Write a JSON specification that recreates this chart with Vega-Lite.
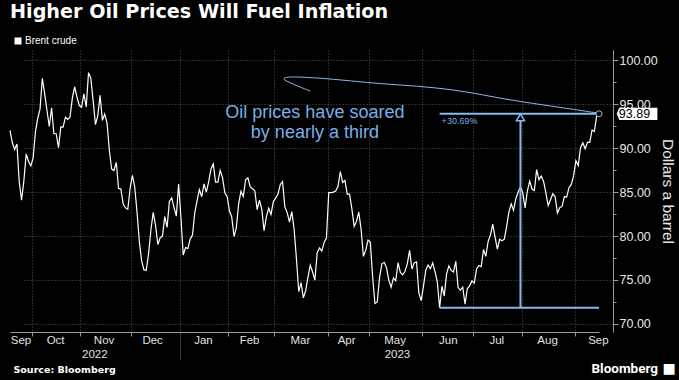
{
  "$schema": "https://vega.github.io/schema/vega-lite/v6.json",
  "width": 603,
  "height": 282,
  "autosize": {"type": "none"},
  "padding": {"left": 10, "top": 50, "right": 66, "bottom": 48},
  "background": "#000000",
  "config": {
    "view": {"stroke": null},
    "axis": {"labelFont": "Liberation Sans", "titleFont": "Liberation Sans"},
    "text": {"font": "Liberation Sans"}
  },
  "title": {
    "text": "Higher Oil Prices Will Fuel Inflation",
    "anchor": "start",
    "frame": "group",
    "orient": "top",
    "baseline": "alphabetic",
    "offset": -1,
    "font": "DejaVu Sans",
    "fontSize": 19.2,
    "fontWeight": "bold",
    "color": "#ffffff"
  },
  "datasets": {
    "brent": [
      {"d":"2022-09-19","p":92.00},{"d":"2022-09-20","p":90.62},{"d":"2022-09-21","p":89.83},{"d":"2022-09-22","p":90.46},{"d":"2022-09-23","p":86.15},{"d":"2022-09-26","p":84.06},{"d":"2022-09-27","p":86.27},{"d":"2022-09-28","p":89.32},{"d":"2022-09-29","p":88.49},{"d":"2022-09-30","p":87.96},
      {"d":"2022-10-03","p":88.86},{"d":"2022-10-04","p":91.80},{"d":"2022-10-05","p":93.37},{"d":"2022-10-06","p":94.42},{"d":"2022-10-07","p":97.92},{"d":"2022-10-10","p":96.19},{"d":"2022-10-11","p":94.29},{"d":"2022-10-12","p":92.45},{"d":"2022-10-13","p":94.57},{"d":"2022-10-14","p":91.63},{"d":"2022-10-17","p":91.62},{"d":"2022-10-18","p":90.03},{"d":"2022-10-19","p":92.41},{"d":"2022-10-20","p":92.38},{"d":"2022-10-21","p":93.50},{"d":"2022-10-24","p":93.26},{"d":"2022-10-25","p":93.52},{"d":"2022-10-26","p":95.69},{"d":"2022-10-27","p":96.96},{"d":"2022-10-28","p":95.77},{"d":"2022-10-31","p":94.83},
      {"d":"2022-11-01","p":94.65},{"d":"2022-11-02","p":96.16},{"d":"2022-11-03","p":94.67},{"d":"2022-11-04","p":98.57},{"d":"2022-11-07","p":97.92},{"d":"2022-11-08","p":95.36},{"d":"2022-11-09","p":92.65},{"d":"2022-11-10","p":93.67},{"d":"2022-11-11","p":95.99},{"d":"2022-11-14","p":93.14},{"d":"2022-11-15","p":93.86},{"d":"2022-11-16","p":92.86},{"d":"2022-11-17","p":89.78},{"d":"2022-11-18","p":87.62},{"d":"2022-11-21","p":87.45},{"d":"2022-11-22","p":88.36},{"d":"2022-11-23","p":85.41},{"d":"2022-11-24","p":85.34},{"d":"2022-11-25","p":83.63},{"d":"2022-11-28","p":83.19},{"d":"2022-11-29","p":83.03},{"d":"2022-11-30","p":85.43},
      {"d":"2022-12-01","p":86.88},{"d":"2022-12-02","p":85.57},{"d":"2022-12-05","p":82.68},{"d":"2022-12-06","p":79.35},{"d":"2022-12-07","p":77.17},{"d":"2022-12-08","p":76.15},{"d":"2022-12-09","p":76.10},{"d":"2022-12-12","p":77.99},{"d":"2022-12-13","p":80.68},{"d":"2022-12-14","p":82.70},{"d":"2022-12-15","p":81.21},{"d":"2022-12-16","p":79.04},{"d":"2022-12-19","p":79.80},{"d":"2022-12-20","p":79.99},{"d":"2022-12-21","p":82.20},{"d":"2022-12-22","p":80.98},{"d":"2022-12-23","p":83.92},{"d":"2022-12-27","p":84.33},{"d":"2022-12-28","p":83.26},{"d":"2022-12-29","p":82.26},{"d":"2022-12-30","p":85.91},
      {"d":"2023-01-03","p":82.10},{"d":"2023-01-04","p":77.84},{"d":"2023-01-05","p":78.69},{"d":"2023-01-06","p":78.57},{"d":"2023-01-09","p":79.65},{"d":"2023-01-10","p":80.10},{"d":"2023-01-11","p":82.67},{"d":"2023-01-12","p":84.03},{"d":"2023-01-13","p":85.28},{"d":"2023-01-16","p":84.46},{"d":"2023-01-17","p":85.92},{"d":"2023-01-18","p":84.98},{"d":"2023-01-19","p":86.16},{"d":"2023-01-20","p":87.63},{"d":"2023-01-23","p":88.19},{"d":"2023-01-24","p":86.13},{"d":"2023-01-25","p":86.12},{"d":"2023-01-26","p":87.47},{"d":"2023-01-27","p":86.66},{"d":"2023-01-30","p":84.90},{"d":"2023-01-31","p":84.49},
      {"d":"2023-02-01","p":82.84},{"d":"2023-02-02","p":82.17},{"d":"2023-02-03","p":79.94},{"d":"2023-02-06","p":80.99},{"d":"2023-02-07","p":83.69},{"d":"2023-02-08","p":85.09},{"d":"2023-02-09","p":84.50},{"d":"2023-02-10","p":86.39},{"d":"2023-02-13","p":86.61},{"d":"2023-02-14","p":85.58},{"d":"2023-02-15","p":85.38},{"d":"2023-02-16","p":85.14},{"d":"2023-02-17","p":83.00},{"d":"2023-02-20","p":84.07},{"d":"2023-02-21","p":83.05},{"d":"2023-02-22","p":80.60},{"d":"2023-02-23","p":82.21},{"d":"2023-02-24","p":83.16},{"d":"2023-02-27","p":82.45},{"d":"2023-02-28","p":83.89},
      {"d":"2023-03-01","p":84.31},{"d":"2023-03-02","p":84.75},{"d":"2023-03-03","p":85.83},{"d":"2023-03-06","p":86.18},{"d":"2023-03-07","p":83.29},{"d":"2023-03-08","p":82.66},{"d":"2023-03-09","p":81.59},{"d":"2023-03-10","p":82.78},{"d":"2023-03-13","p":80.77},{"d":"2023-03-14","p":77.45},{"d":"2023-03-15","p":73.69},{"d":"2023-03-16","p":74.70},{"d":"2023-03-17","p":72.97},{"d":"2023-03-20","p":73.79},{"d":"2023-03-21","p":75.32},{"d":"2023-03-22","p":76.69},{"d":"2023-03-23","p":75.91},{"d":"2023-03-24","p":74.99},{"d":"2023-03-27","p":78.12},{"d":"2023-03-28","p":78.65},{"d":"2023-03-29","p":78.28},{"d":"2023-03-30","p":79.27},{"d":"2023-03-31","p":79.77},
      {"d":"2023-04-03","p":84.93},{"d":"2023-04-04","p":84.94},{"d":"2023-04-05","p":84.99},{"d":"2023-04-06","p":85.12},{"d":"2023-04-11","p":85.61},{"d":"2023-04-12","p":87.33},{"d":"2023-04-13","p":86.09},{"d":"2023-04-14","p":86.31},{"d":"2023-04-17","p":84.76},{"d":"2023-04-18","p":84.77},{"d":"2023-04-19","p":83.12},{"d":"2023-04-20","p":81.10},{"d":"2023-04-21","p":81.66},{"d":"2023-04-24","p":82.73},{"d":"2023-04-25","p":80.77},{"d":"2023-04-26","p":77.69},{"d":"2023-04-27","p":78.37},{"d":"2023-04-28","p":79.54},
      {"d":"2023-05-01","p":79.31},{"d":"2023-05-02","p":75.32},{"d":"2023-05-03","p":72.33},{"d":"2023-05-04","p":72.50},{"d":"2023-05-05","p":75.30},{"d":"2023-05-08","p":76.84},{"d":"2023-05-09","p":77.01},{"d":"2023-05-10","p":76.41},{"d":"2023-05-11","p":74.98},{"d":"2023-05-12","p":74.17},{"d":"2023-05-15","p":75.23},{"d":"2023-05-16","p":74.91},{"d":"2023-05-17","p":76.96},{"d":"2023-05-18","p":75.86},{"d":"2023-05-19","p":75.58},{"d":"2023-05-22","p":75.99},{"d":"2023-05-23","p":76.84},{"d":"2023-05-24","p":78.36},{"d":"2023-05-25","p":76.26},{"d":"2023-05-26","p":76.95},{"d":"2023-05-29","p":77.07},{"d":"2023-05-30","p":73.54},{"d":"2023-05-31","p":72.66},
      {"d":"2023-06-01","p":74.28},{"d":"2023-06-02","p":76.13},{"d":"2023-06-05","p":76.71},{"d":"2023-06-06","p":76.29},{"d":"2023-06-07","p":76.95},{"d":"2023-06-08","p":75.96},{"d":"2023-06-09","p":74.79},{"d":"2023-06-12","p":71.84},{"d":"2023-06-13","p":74.29},{"d":"2023-06-14","p":73.20},{"d":"2023-06-15","p":75.67},{"d":"2023-06-16","p":76.61},{"d":"2023-06-19","p":76.09},{"d":"2023-06-20","p":75.90},{"d":"2023-06-21","p":77.12},{"d":"2023-06-22","p":74.14},{"d":"2023-06-23","p":73.85},{"d":"2023-06-26","p":74.18},{"d":"2023-06-27","p":72.26},{"d":"2023-06-28","p":74.03},{"d":"2023-06-29","p":74.34},{"d":"2023-06-30","p":74.90},
      {"d":"2023-07-03","p":74.65},{"d":"2023-07-04","p":76.25},{"d":"2023-07-05","p":76.65},{"d":"2023-07-06","p":76.52},{"d":"2023-07-07","p":78.47},{"d":"2023-07-10","p":77.69},{"d":"2023-07-11","p":79.40},{"d":"2023-07-12","p":80.11},{"d":"2023-07-13","p":81.36},{"d":"2023-07-14","p":79.87},{"d":"2023-07-17","p":78.50},{"d":"2023-07-18","p":79.63},{"d":"2023-07-19","p":79.46},{"d":"2023-07-20","p":79.64},{"d":"2023-07-21","p":81.07},{"d":"2023-07-24","p":82.74},{"d":"2023-07-25","p":83.64},{"d":"2023-07-26","p":82.92},{"d":"2023-07-27","p":84.24},{"d":"2023-07-28","p":84.99},{"d":"2023-07-31","p":85.56},
      {"d":"2023-08-01","p":84.91},{"d":"2023-08-02","p":83.20},{"d":"2023-08-03","p":85.14},{"d":"2023-08-04","p":86.24},{"d":"2023-08-07","p":85.34},{"d":"2023-08-08","p":85.17},{"d":"2023-08-09","p":87.55},{"d":"2023-08-10","p":86.40},{"d":"2023-08-11","p":86.81},{"d":"2023-08-14","p":86.21},{"d":"2023-08-15","p":84.89},{"d":"2023-08-16","p":83.45},{"d":"2023-08-17","p":84.12},{"d":"2023-08-18","p":84.80},{"d":"2023-08-21","p":84.46},{"d":"2023-08-22","p":82.61},{"d":"2023-08-23","p":83.21},{"d":"2023-08-24","p":83.36},{"d":"2023-08-25","p":84.48},{"d":"2023-08-28","p":84.42},{"d":"2023-08-29","p":85.49},{"d":"2023-08-30","p":85.86},{"d":"2023-08-31","p":86.83},
      {"d":"2023-09-01","p":88.55},{"d":"2023-09-04","p":88.00},{"d":"2023-09-05","p":90.04},{"d":"2023-09-06","p":90.60},{"d":"2023-09-07","p":89.92},{"d":"2023-09-08","p":90.65},{"d":"2023-09-11","p":90.64},{"d":"2023-09-12","p":92.06},{"d":"2023-09-13","p":91.88},{"d":"2023-09-14","p":93.70},{"d":"2023-09-15","p":93.89}
    ],
    "curve": [
      {"o":0,"d":"2023-03-22","v":96.48},{"o":1,"d":"2023-03-15","v":96.99},{"o":2,"d":"2023-03-09","v":97.44},{"o":3,"d":"2023-03-06","v":97.84},{"o":4,"d":"2023-03-07","v":98.07},{"o":5,"d":"2023-03-15","v":98.10},{"o":6,"d":"2023-04-05","v":97.84},{"o":7,"d":"2023-04-28","v":97.42},{"o":8,"d":"2023-05-18","v":97.16},{"o":9,"d":"2023-06-07","v":96.90},{"o":10,"d":"2023-06-28","v":96.40},{"o":11,"d":"2023-07-18","v":95.65},{"o":12,"d":"2023-08-07","v":95.08},{"o":13,"d":"2023-08-28","v":94.51},{"o":14,"d":"2023-09-15","v":93.95}
    ],
    "segs": [
      {"d":"2023-06-12","d2":"2023-09-15","v":93.89,"v2":93.89},
      {"d":"2023-06-12","d2":"2023-09-15","v":71.84,"v2":71.84},
      {"d":"2023-07-31","d2":"2023-07-31","v":71.84,"v2":93.89}
    ],
    "ann": [
      {"k":"arrow","d":"2023-07-31","v":93.48},
      {"k":"end","d":"2023-09-15","v":93.89},
      {"k":"tag","d":"2023-09-15","v":93.89,"t":"93.89"},
      {"k":"pct","d":"2023-06-12","v":93.89,"t":"+30.69%"},
      {"k":"note","d":"2023-03-24","v":94.0,"t":"Oil prices have soared\nby nearly a third"}
    ]
  },
  "layer": [
    {
      "data": {"name": "brent"},
      "mark": {"type": "line", "strokeWidth": 1.2},
      "encoding": {
        "x": {
          "field": "d", "type": "ordinal",
          "scale": {"type": "point", "padding": 0, "range": [0, 589]},
          "axis": {
            "orient": "bottom",
            "values": ["2022-10-03","2022-11-01","2022-12-01","2023-01-03","2023-02-01","2023-03-01","2023-04-03","2023-05-01","2023-06-01","2023-07-03","2023-08-01","2023-09-01"],
            "labels": false,
            "grid": true, "gridColor": "#555555", "gridDash": [1, 2], "gridWidth": 1,
            "tickOffset": -1.2,
            "tickSize": {"condition": {"test": "datum.value === '2023-01-03'", "value": 27}, "value": 4},
            "tickColor": {"condition": {"test": "datum.value === '2023-01-03'", "value": "#3c3c3c"}, "value": "#999999"},
            "domainColor": "#999999",
            "title": "Source: Bloomberg",
            "titleFont": "DejaVu Sans", "titleFontSize": 9.5, "titleFontWeight": "bold", "titleColor": "#ffffff",
            "titleAnchor": "start", "titleAlign": "left", "titleBaseline": "alphabetic",
            "titleX": 3, "titleY": 40
          }
        },
        "y": {
          "field": "p", "type": "quantitative",
          "scale": {"domain": [69.09, 101.14], "nice": false, "zero": false},
          "axis": {
            "orient": "right",
            "values": [70, 75, 80, 85, 90, 95, 100],
            "format": ".2f",
            "grid": true, "gridColor": "#555555", "gridDash": [1, 2],
            "domainColor": "#999999", "tickColor": "#999999", "tickSize": 5,
            "labelPadding": 1, "labelFontSize": 12.5, "labelColor": "#e6e6e6",
            "title": "Dollars a barrel", "titleAngle": 90, "titleFontSize": 15.5, "titleFontWeight": "normal",
            "titleColor": "#e6e6e6", "titleBaseline": "alphabetic", "titleAlign": "center",
            "titleX": 49, "titleY": 141
          }
        },
        "color": {
          "datum": "Brent crude",
          "scale": {"range": ["#ffffff"]},
          "legend": {
            "orient": "none", "legendX": 3, "legendY": -14, "title": null, "padding": 0,
            "symbolType": "square", "symbolSize": 49, "symbolStrokeWidth": 0,
            "labelColor": "#ffffff", "labelFont": "Liberation Sans", "labelFontSize": 10, "labelOffset": 2,
            "encode": {"symbols": {"update": {"fill": {"value": "#ffffff"}, "stroke": {"value": "#ffffff"}, "strokeWidth": {"value": 0}}}}
          }
        }
      }
    },
    {
      "data": {"name": "segs"},
      "mark": {"type": "rule", "color": "#8ab8ec", "strokeWidth": 2},
      "encoding": {
        "x": {
          "field": "d", "type": "ordinal",
          "scale": {"type": "point", "padding": 0, "range": [0, 589]},
          "axis": {
            "orient": "bottom",
            "values": ["2022-09-23","2022-10-14","2022-11-14","2022-12-13","2023-01-16","2023-02-13","2023-03-15","2023-04-14","2023-05-15","2023-06-15","2023-07-14","2023-08-15","2023-09-14"],
            "labelExpr": "['Jan','Feb','Mar','Apr','May','Jun','Jul','Aug','Sep','Oct','Nov','Dec'][toNumber(slice(datum.value,5,7))-1]",
            "ticks": false, "tickSize": 0, "domain": false, "grid": false,
            "labelAngle": 0, "labelAlign": "center", "labelBaseline": "alphabetic",
            "labelOffset": 1.2, "labelPadding": 11.3, "labelFontSize": 11.5, "labelColor": "#e0e0e0", "labelOverlap": false,
            "title": "Bloomberg",
            "titleFont": "Roboto", "titleFontSize": 13.5, "titleFontWeight": "bold", "titleColor": "#ffffff",
            "titleAnchor": "start", "titleAlign": "left", "titleBaseline": "alphabetic",
            "titleX": 581, "titleY": 40
          }
        },
        "x2": {"field": "d2"},
        "y": {
          "field": "v", "type": "quantitative",
          "scale": {"domain": [69.09, 101.14], "nice": false, "zero": false},
          "axis": {
            "orient": "right",
            "values": [72.5, 77.5, 82.5, 87.5, 92.5, 97.5],
            "labels": false, "grid": false, "domain": false,
            "tickSize": 3, "tickColor": "#999999",
            "title": "■", "titleAngle": 0, "titleFont": "DejaVu Sans", "titleFontSize": 14, "titleFontWeight": "normal",
            "titleColor": "#ffffff", "titleAlign": "left", "titleBaseline": "alphabetic",
            "titleX": 49, "titleY": 322
          }
        },
        "y2": {"field": "v2"}
      }
    },
    {
      "data": {"name": "curve"},
      "mark": {"type": "line", "color": "#8ab8ec", "strokeWidth": 1, "interpolate": "basis"},
      "encoding": {
        "x": {
          "field": "d", "type": "ordinal",
          "scale": {"type": "point", "padding": 0, "range": [0, 589]},
          "axis": {
            "orient": "bottom",
            "values": ["2022-11-08", "2023-05-16"],
            "labelExpr": "slice(datum.value,0,4)",
            "ticks": false, "tickSize": 0, "domain": false, "grid": false,
            "labelAngle": 0, "labelAlign": "center", "labelBaseline": "alphabetic",
            "labelOffset": 1.2, "labelPadding": 25.3, "labelFontSize": 11.5, "labelColor": "#e0e0e0", "labelOverlap": false,
            "title": null
          }
        },
        "y": {
          "field": "v", "type": "quantitative",
          "scale": {"domain": [69.09, 101.14], "nice": false, "zero": false},
          "axis": null
        },
        "order": {"field": "o", "type": "quantitative"}
      }
    },
    {
      "data": {"name": "ann"},
      "transform": [{"filter": "datum.k === 'end'"}],
      "mark": {"type": "point", "shape": "circle", "size": 36, "filled": true, "fill": "#000000", "stroke": "#8ab8ec", "strokeWidth": 1, "opacity": 1},
      "encoding": {
        "x": {"field": "d", "type": "ordinal", "scale": {"type": "point", "padding": 0, "range": [0, 589]}, "axis": null},
        "y": {"field": "v", "type": "quantitative", "scale": {"domain": [69.09, 101.14], "nice": false, "zero": false}, "axis": null}
      }
    },
    {
      "data": {"name": "ann"},
      "transform": [{"filter": "datum.k === 'arrow'"}],
      "mark": {"type": "point", "shape": "triangle-up", "size": 64, "filled": true, "fill": "#000000", "stroke": "#8ab8ec", "strokeWidth": 1.5, "opacity": 1},
      "encoding": {
        "x": {"field": "d", "type": "ordinal", "scale": {"type": "point", "padding": 0, "range": [0, 589]}, "axis": null},
        "y": {"field": "v", "type": "quantitative", "scale": {"domain": [69.09, 101.14], "nice": false, "zero": false}, "axis": null}
      }
    },
    {
      "data": {"name": "ann"},
      "transform": [{"filter": "datum.k === 'tag'"}],
      "mark": {"type": "point", "shape": "M-1,-0.324L1,-0.324L1,0.324L-1,0.324L-1.14,0Z", "size": 1444, "filled": true, "fill": "#ffffff", "strokeWidth": 0, "opacity": 1, "xOffset": 39.4},
      "encoding": {
        "x": {"field": "d", "type": "ordinal", "scale": {"type": "point", "padding": 0, "range": [0, 589]}, "axis": null},
        "y": {"field": "v", "type": "quantitative", "scale": {"domain": [69.09, 101.14], "nice": false, "zero": false}, "axis": null}
      }
    },
    {
      "data": {"name": "ann"},
      "transform": [{"filter": "datum.k === 'tag'"}],
      "mark": {"type": "text", "align": "center", "baseline": "middle", "dx": 35.5, "fontSize": 12.5, "color": "#000000", "font": "Liberation Sans"},
      "encoding": {
        "x": {"field": "d", "type": "ordinal", "scale": {"type": "point", "padding": 0, "range": [0, 589]}, "axis": null},
        "y": {"field": "v", "type": "quantitative", "scale": {"domain": [69.09, 101.14], "nice": false, "zero": false}, "axis": null},
        "text": {"field": "t"}
      }
    },
    {
      "data": {"name": "ann"},
      "transform": [{"filter": "datum.k === 'pct'"}],
      "mark": {"type": "text", "align": "left", "baseline": "middle", "dx": 2, "dy": 7, "fontSize": 9, "color": "#7aaee8", "font": "Liberation Sans"},
      "encoding": {
        "x": {"field": "d", "type": "ordinal", "scale": {"type": "point", "padding": 0, "range": [0, 589]}, "axis": null},
        "y": {"field": "v", "type": "quantitative", "scale": {"domain": [69.09, 101.14], "nice": false, "zero": false}, "axis": null},
        "text": {"field": "t"}
      }
    },
    {
      "data": {"name": "ann"},
      "transform": [{"filter": "datum.k === 'note'"}],
      "mark": {"type": "text", "align": "center", "baseline": "middle", "fontSize": 18, "lineHeight": 20, "lineBreak": "\n", "color": "#7aaee8", "font": "Liberation Sans"},
      "encoding": {
        "x": {"field": "d", "type": "ordinal", "scale": {"type": "point", "padding": 0, "range": [0, 589]}, "axis": null},
        "y": {"field": "v", "type": "quantitative", "scale": {"domain": [69.09, 101.14], "nice": false, "zero": false}, "axis": null},
        "text": {"field": "t"}
      }
    }
  ],
  "resolve": {"axis": {"x": "independent", "y": "independent"}}
}
